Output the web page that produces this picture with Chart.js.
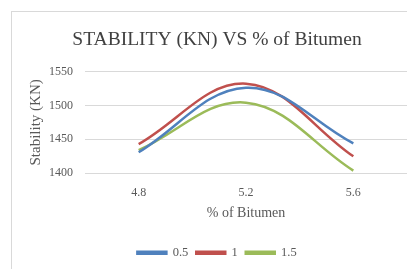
<!DOCTYPE html>
<html><head><meta charset="utf-8">
<script src="https://cdn.jsdelivr.net/npm/chart.js@4/dist/chart.umd.min.js"></script>
<style>
html,body{margin:0;padding:0;background:#fff;}
#wrap{position:relative;width:407px;height:269px;overflow:hidden;}
#card{position:absolute;left:11px;top:11px;width:420px;height:280px;border:1px solid #d9d9d9;box-sizing:border-box;}
canvas{position:absolute;left:0;top:0;}
</style></head>
<body><div id="wrap"><div id="card"></div><canvas id="c" width="407" height="269"></canvas></div>
<script>
const categories = ["4.8", "5.2", "5.6"];
const series05 = [1431, 1526, 1444];
const series1 = [1443, 1532, 1425];
const series15 = [1434, 1504, 1404];
const yTicks = [1400, 1450, 1500, 1550];
const seriesNames = ["0.5", "1", "1.5"];

const colors = ["#4F81BD", "#C0504D", "#9BBB59"];
const serif = "'Liberation Serif', 'DejaVu Serif', serif";
new Chart(document.getElementById('c'), {
  type: 'line',
  data: {
    labels: categories,
    datasets: [series05, series1, series15].map((d, i) => ({
      label: seriesNames[i], data: d, borderColor: colors[i], backgroundColor: colors[i],
      borderWidth: 2.5, pointRadius: 0, tension: 0.38, fill: false
    }))
  },
  options: {
    responsive: false, animation: false,
    layout: { padding: { left: 27, right: 0, top: 28, bottom: 0 } },
    plugins: {
      title: { display: true, text: 'STABILITY (KN) VS % of Bitumen', color: '#404040',
        font: { family: serif, size: 19.5, weight: 'normal' }, padding: { top: 0, bottom: 20 } },
      legend: { position: 'bottom', labels: { boxWidth: 29, boxHeight: 2, color: '#595959',
        font: { family: serif, size: 12.5 }, padding: 8 } },
      tooltip: { enabled: false }
    },
    scales: {
      x: { offset: true, grid: { display: false }, border: { display: false },
        ticks: { color: '#595959', font: { family: serif, size: 12 }, padding: 4 },
        title: { display: true, text: '% of Bitumen', color: '#595959', font: { family: serif, size: 14 }, padding: { top: 1, bottom: 17 } } },
      y: { min: 1400, max: 1550, afterBuildTicks: a => { a.ticks = yTicks.map(v => ({ value: v })); },
        grid: { color: '#d9d9d9', drawTicks: false }, border: { display: false },
        ticks: { color: '#595959', font: { family: serif, size: 12 }, padding: 12, callback: v => String(v) },
        title: { display: true, text: 'Stability (KN)', color: '#595959', font: { family: serif, size: 15 }, padding: { top: 0, bottom: -8 } } }
    }
  }
});
</script></body></html>
